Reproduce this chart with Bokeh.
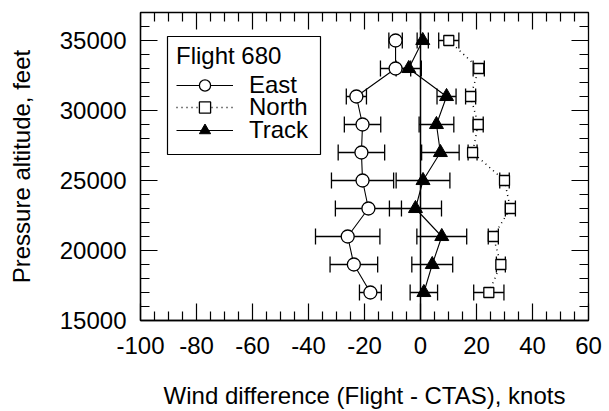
from bokeh.plotting import figure
from bokeh.models import (ColumnDataSource, Whisker, TeeHead, Span, FixedTicker,
                          Legend, LegendItem, Range1d, PrintfTickFormatter,
                          BoxAnnotation)
from bokeh.embed import file_html
from bokeh.resources import INLINE
import numpy as np

# Pressure altitude of each wind comparison level (feet)
altitude = [35000, 33000, 31000, 29000, 27000, 25000, 23000, 21000, 19000, 17000]

# Wind difference (Flight - CTAS), knots, with +/- spread
east = [-8.9, -8.9, -22.9, -20.7, -21.1, -20.7, -18.6, -26.0, -23.8, -17.9]
east_err = [2.4, 5.4, 3.6, 6.5, 8.3, 11.1, 11.8, 11.5, 8.5, 3.9]

north = [10.1, 20.8, 17.9, 20.6, 18.6, 30.0, 32.1, 26.0, 28.7, 24.4]
north_err = [3.6, 2.0, 1.8, 1.8, 1.6, 1.7, 1.8, 1.8, 1.6, 5.4]

track = [0.8, -4.2, 9.3, 5.7, 7.1, 0.9, -1.8, 7.6, 4.2, 1.2]
track_err = [2.0, 4.5, 3.4, 6.2, 6.7, 9.6, 9.3, 8.9, 7.3, 4.9]

x_ticks = [-100, -80, -60, -40, -20, 0, 20, 40, 60]
y_ticks = [15000, 20000, 25000, 30000, 35000]
x_lo, x_hi = -100, 60
y_lo, y_hi = 15000, 37000

FONT = "Liberation Sans"
FS = "24px"
MAJOR, MINOR = 17, 9


def spread(vals, errs):
    return ([v - e for v, e in zip(vals, errs)], [v + e for v, e in zip(vals, errs)])


e_lo, e_hi = spread(east, east_err)
n_lo, n_hi = spread(north, north_err)
t_lo, t_hi = spread(track, track_err)

src = ColumnDataSource(dict(
    alt=altitude,
    east=east, east_lo=e_lo, east_hi=e_hi,
    north=north, north_lo=n_lo, north_hi=n_hi,
    track=track, track_lo=t_lo, track_hi=t_hi,
))

p = figure(width=609, height=411,
           x_range=Range1d(x_lo, x_hi), y_range=Range1d(y_lo, y_hi),
           output_backend="svg", toolbar_location=None,
           min_border_left=140, min_border_right=21,
           min_border_top=12, min_border_bottom=89,
           x_axis_label="Wind difference (Flight - CTAS), knots",
           y_axis_label="Pressure altitude, feet")
p.background_fill_color = "white"
p.border_fill_color = "white"
p.xgrid.visible = False
p.ygrid.visible = False
p.outline_line_color = "black"
p.outline_line_width = 1.3

x_minor = [v for v in range(x_lo, x_hi + 1, 5) if v % 20 != 0]
y_minor = [v for v in range(y_lo, y_hi + 1, 1000) if v % 5000 != 0]
p.xaxis.ticker = FixedTicker(ticks=x_ticks, minor_ticks=x_minor)
p.yaxis.ticker = FixedTicker(ticks=y_ticks, minor_ticks=y_minor)
p.xaxis.formatter = PrintfTickFormatter(format="%d")
p.yaxis.formatter = PrintfTickFormatter(format="%d")

for ax in (p.xaxis[0], p.yaxis[0]):
    ax.axis_line_color = "black"
    ax.axis_line_width = 1.3
    ax.major_tick_in = MAJOR
    ax.major_tick_out = 0
    ax.minor_tick_in = MINOR
    ax.minor_tick_out = 0
    ax.major_tick_line_color = "black"
    ax.minor_tick_line_color = "black"
    ax.major_tick_line_width = 1.2
    ax.minor_tick_line_width = 1.2
    ax.major_label_text_font = FONT
    ax.major_label_text_font_size = FS
    ax.major_label_text_color = "black"
    ax.axis_label_text_font = FONT
    ax.axis_label_text_font_size = FS
    ax.axis_label_text_font_style = "normal"
    ax.axis_label_text_color = "black"

p.xaxis.major_label_standoff = 16
p.xaxis.axis_label_standoff = 25
p.yaxis.major_label_standoff = 14
p.yaxis.axis_label_standoff = 22

# inward ticks along the top and right edges of the frame
tick_kw = dict(length_units="screen", line_color="black", line_width=1.2)
p.ray(x=x_ticks, y=[y_hi] * len(x_ticks), length=MAJOR, angle=-np.pi / 2, **tick_kw)
p.ray(x=x_minor, y=[y_hi] * len(x_minor), length=MINOR, angle=-np.pi / 2, **tick_kw)
p.ray(x=[x_hi] * len(y_ticks), y=y_ticks, length=MAJOR, angle=np.pi, **tick_kw)
p.ray(x=[x_hi] * len(y_minor), y=y_minor, length=MINOR, angle=np.pi, **tick_kw)

p.add_layout(Span(location=0, dimension="height", line_color="black",
                  line_width=1.5, level="underlay"))

# horizontal spread bars with end caps
for col in ("east", "north", "track"):
    p.add_layout(Whisker(source=src, base="alt", lower=col + "_lo", upper=col + "_hi",
                         dimension="width", line_color="black", line_width=1.3,
                         lower_head=TeeHead(size=16, line_color="black", line_width=1.3),
                         upper_head=TeeHead(size=16, line_color="black", line_width=1.3)))

east_line = p.line("east", "alt", source=src, line_color="black", line_width=1.1)
north_line = p.line("north", "alt", source=src, line_color="black", line_width=1.5,
                    line_dash="1 4")
track_line = p.line("track", "alt", source=src, line_color="black", line_width=1.1)

east_pts = p.scatter("east", "alt", source=src, marker="circle", size=13,
                     fill_color="white", line_color="black", line_width=1.3)
north_pts = p.scatter("north", "alt", source=src, marker="square", size=10,
                      fill_color="white", line_color="black", line_width=1.3)
track_pts = p.scatter("track", "alt", source=src, marker="triangle", size=14,
                      fill_color="black", line_color="black", line_width=1)

# legend frame, then one tightly stacked entry per series
p.add_layout(BoxAnnotation(left=27, right=180, bottom=166, top=284,
                           left_units="screen", right_units="screen",
                           bottom_units="screen", top_units="screen",
                           fill_color="white", fill_alpha=1,
                           line_color="black", line_width=1.2, line_alpha=1))

entries = [("East", [east_line, east_pts], 221),
           ("North", [north_line, north_pts], 199),
           ("Track", [track_line, track_pts], 176)]
for i, (name, rends, ypos) in enumerate(entries):
    lg = Legend(items=[LegendItem(label=name, renderers=rends)], location=(36, ypos))
    if i == 0:
        lg.title = "Flight 680"
        lg.title_text_font = FONT
        lg.title_text_font_size = FS
        lg.title_text_font_style = "normal"
        lg.title_text_color = "black"
        lg.title_standoff = 1
    lg.label_text_font = FONT
    lg.label_text_font_size = FS
    lg.label_text_color = "black"
    lg.border_line_alpha = 0
    lg.background_fill_alpha = 0
    lg.padding = 0
    lg.spacing = 0
    lg.margin = 0
    lg.glyph_width = 57
    lg.glyph_height = 28
    lg.label_height = 28
    lg.label_standoff = 16
    p.add_layout(lg, "center")

open("out.html", "w").write(file_html(p, INLINE))
